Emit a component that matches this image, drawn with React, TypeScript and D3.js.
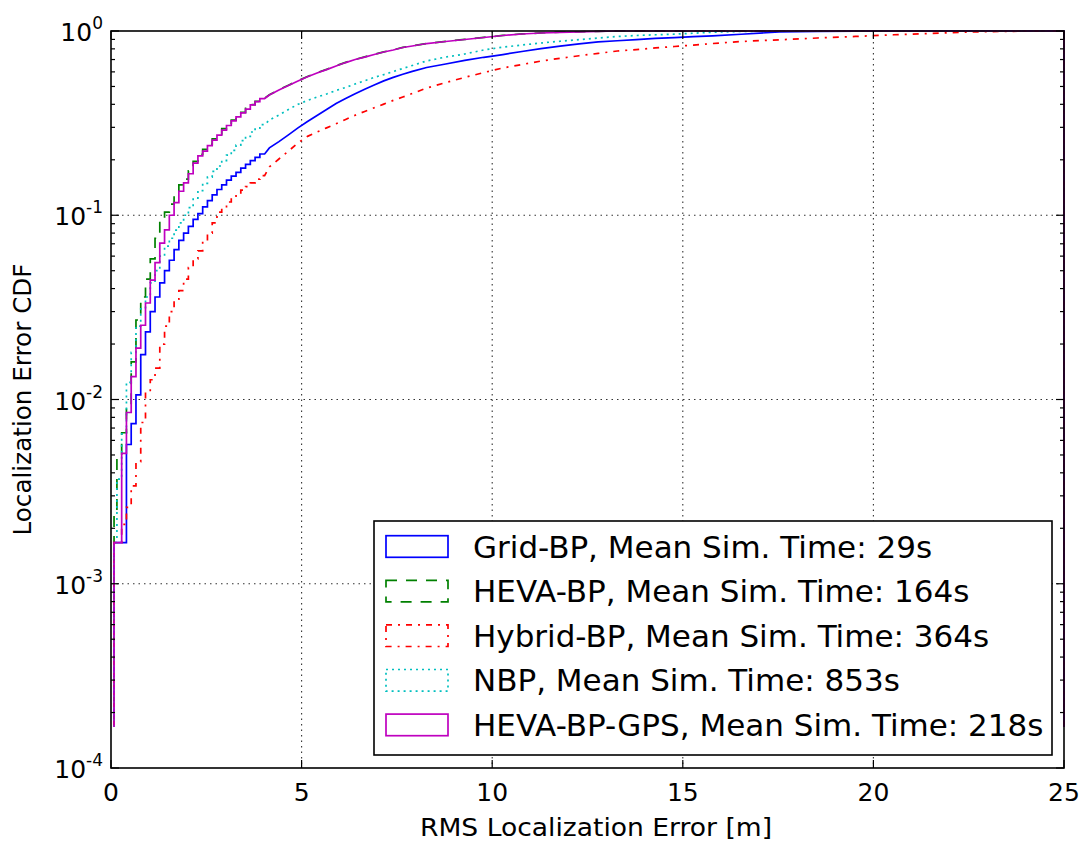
import React from "react";
import * as d3 from "d3";

// Histogram bin edges [m] (fine near zero, coarser further out)
const binEdges = [
  0.08, 0.155, 0.28, 0.405, 0.53, 0.655, 0.78, 0.905, 1.03, 1.155, 1.28, 1.405, 1.53, 1.655, 1.78, 1.905,
  2.03, 2.155, 2.28, 2.405, 2.53, 2.655, 2.78, 2.905, 3.03, 3.155, 3.28, 3.405, 3.53, 3.655, 3.78, 3.905, 4.03,
  4.28, 4.53, 4.78, 5.03, 5.28, 5.53, 5.78, 6.03, 6.28, 6.53, 6.78, 7.03, 7.28, 7.53, 7.78, 8.03,
  8.53, 9.03, 9.53, 10.03, 10.53, 11.03, 11.53, 12.03, 12.53, 13.03, 13.53, 14.03, 14.53, 15.03, 15.53, 16.03,
  17.03, 18.03, 19.03, 20.03, 21.03, 22.03, 23.03, 24.03, 25,
];
// number of fine (0.125 m) bins drawn as visible steps
const fineBinCount = 32;

// Cumulative fraction in each bin
const gridBP = [
  0.00167, 0.00167, 0.00167, 0.0057, 0.0074, 0.0106, 0.0175, 0.0233, 0.03, 0.036, 0.043, 0.05, 0.057, 0.065, 0.073, 0.08,
  0.087, 0.095, 0.102, 0.111, 0.12, 0.129, 0.138, 0.146, 0.155, 0.163, 0.171, 0.18, 0.189, 0.198, 0.206, 0.215,
  0.232, 0.251, 0.273, 0.298, 0.323, 0.348, 0.375, 0.404, 0.43, 0.456, 0.483, 0.509, 0.536, 0.56, 0.582, 0.604,
  0.634, 0.662, 0.692, 0.72, 0.745, 0.774, 0.802, 0.827, 0.852, 0.872, 0.885, 0.898, 0.911, 0.921, 0.931, 0.942,
  0.96, 0.988, 0.995, 0.999, 1, 1, 1, 1, 1,
];
const hevaBP = [
  0.0025, 0.0048, 0.0066, 0.009, 0.016, 0.027, 0.036, 0.045, 0.058, 0.075, 0.093, 0.104, 0.115, 0.13, 0.146, 0.157,
  0.174, 0.196, 0.214, 0.228, 0.243, 0.26, 0.276, 0.295, 0.31, 0.328, 0.345, 0.362, 0.38, 0.398, 0.415, 0.432,
  0.451, 0.48, 0.508, 0.537, 0.566, 0.594, 0.619, 0.648, 0.676, 0.701, 0.724, 0.747, 0.77, 0.79, 0.815, 0.83,
  0.856, 0.878, 0.9, 0.923, 0.946, 0.964, 0.976, 0.985, 0.99, 0.995, 1, 1, 1, 1, 1, 1,
  1, 1, 1, 1, 1, 1, 1, 1, 1,
];
const hybridBP = [
  0.00167, 0.00167, 0.0021, 0.0026, 0.0034, 0.0046, 0.0075, 0.011, 0.0128, 0.0148, 0.02, 0.025, 0.03, 0.035, 0.039, 0.045,
  0.052, 0.058, 0.064, 0.072, 0.08, 0.091, 0.104, 0.11, 0.118, 0.124, 0.13, 0.137, 0.143, 0.15, 0.157, 0.164,
  0.183, 0.202, 0.223, 0.247, 0.268, 0.283, 0.298, 0.314, 0.331, 0.349, 0.366, 0.383, 0.401, 0.42, 0.438, 0.458,
  0.49, 0.525, 0.56, 0.595, 0.63, 0.658, 0.687, 0.711, 0.734, 0.756, 0.779, 0.793, 0.809, 0.824, 0.839, 0.855,
  0.877, 0.896, 0.916, 0.934, 0.954, 0.971, 0.988, 0.996, 1,
];
const nbp = [
  0.00167, 0.0037, 0.0065, 0.0124, 0.018, 0.025, 0.031, 0.036, 0.043, 0.05, 0.06, 0.068, 0.075, 0.083, 0.091, 0.1,
  0.11, 0.124, 0.136, 0.149, 0.161, 0.173, 0.185, 0.198, 0.212, 0.225, 0.24, 0.254, 0.268, 0.283, 0.297, 0.31,
  0.329, 0.35, 0.375, 0.4, 0.42, 0.438, 0.455, 0.476, 0.494, 0.516, 0.537, 0.56, 0.58, 0.603, 0.626, 0.65,
  0.688, 0.722, 0.75, 0.789, 0.817, 0.839, 0.861, 0.88, 0.898, 0.916, 0.934, 0.945, 0.954, 0.961, 0.973, 0.985,
  0.995, 1, 1, 1, 1, 1, 1, 1, 1,
];
const hevaBPGPS = [
  0.00167, 0.00167, 0.0051, 0.0085, 0.0133, 0.019, 0.0253, 0.0334, 0.0445, 0.0553, 0.0705, 0.0833, 0.1, 0.117, 0.135, 0.15,
  0.168, 0.192, 0.21, 0.223, 0.239, 0.256, 0.272, 0.29, 0.307, 0.325, 0.342, 0.359, 0.377, 0.397, 0.414, 0.43,
  0.449, 0.478, 0.506, 0.535, 0.564, 0.592, 0.617, 0.646, 0.674, 0.7, 0.722, 0.746, 0.769, 0.789, 0.814, 0.829,
  0.855, 0.877, 0.899, 0.922, 0.945, 0.963, 0.975, 0.984, 0.99, 0.995, 1, 1, 1, 1, 1, 1,
  1, 1, 1, 1, 1, 1, 1, 1, 1,
];

const legendLabels = [
  "Grid-BP, Mean Sim. Time: 29s",
  "HEVA-BP, Mean Sim. Time: 164s",
  "Hybrid-BP, Mean Sim. Time: 364s",
  "NBP, Mean Sim. Time: 853s",
  "HEVA-BP-GPS, Mean Sim. Time: 218s",
];
const xTickValues = [0, 5, 10, 15, 20, 25];
const yTickExponents = [0, -1, -2, -3, -4];
const xLabel = "RMS Localization Error [m]";
const yLabel = "Localization Error CDF";
const histBottom = 1 / 6000;

const W = 1083;
const H = 842;
const PL = 111, PR = 1064, PT = 31, PB = 768;

const seriesStyles = [
  { values: gridBP, color: "#0000ff", dash: undefined as string | undefined },
  { values: hevaBP, color: "#008000", dash: "11,9" },
  { values: hybridBP, color: "#ff0000", dash: "6,6,2,6" },
  { values: nbp, color: "#00bfbf", dash: "2,4" },
  { values: hevaBPGPS, color: "#bf00bf", dash: undefined as string | undefined },
];

export default function App() {
  const x = d3.scaleLinear().domain([0, 25]).range([PL, PR]);
  const y = d3.scaleLog().domain([1e-4, 1]).range([PB, PT]);
  const line = d3
    .line<[number, number]>()
    .x((d) => x(d[0]))
    .y((d) => y(d[1]));

  const histPoints = (vals: number[]) => {
    const pts: [number, number][] = [[binEdges[0], histBottom]];
    vals.forEach((v, i) => {
      const vv = Math.max(v, histBottom);
      if (i < fineBinCount) {
        pts.push([binEdges[i], vv]);
        pts.push([binEdges[i + 1], vv]);
      } else {
        pts.push([(binEdges[i] + binEdges[i + 1]) / 2, vv]);
        if (i === vals.length - 1) pts.push([binEdges[i + 1], vv]);
      }
    });
    pts.push([binEdges[binEdges.length - 1], histBottom]);
    return pts;
  };

  const minorTicks: number[] = [];
  for (let k = -4; k < 0; k++) {
    for (let j = 2; j <= 9; j++) minorTicks.push(j * Math.pow(10, k));
  }

  const font = "'DejaVu Sans', sans-serif";
  const legX = 374, legY = 521, legW = 678, legH = 234;
  const rowH = 44.6;

  return (
    <svg
      width={W}
      height={H}
      style={{ position: "absolute", left: 0, top: 0, background: "#fff" }}
      fontFamily={font}
    >
      <rect x={0} y={0} width={W} height={H} fill="#fff" />
      <defs>
        <clipPath id="plotClip">
          <rect x={PL - 2} y={PT - 2} width={PR - PL + 4} height={PB - PT + 4} />
        </clipPath>
      </defs>

      {/* grid */}
      <g stroke="#333" strokeWidth={1.1} strokeDasharray="1.5,4" fill="none">
        {xTickValues.slice(1, -1).map((v) => (
          <line key={"gx" + v} x1={x(v)} x2={x(v)} y1={PT} y2={PB} />
        ))}
        {yTickExponents.slice(1, -1).map((e) => (
          <line key={"gy" + e} x1={PL} x2={PR} y1={y(Math.pow(10, e))} y2={y(Math.pow(10, e))} />
        ))}
      </g>

      {/* series */}
      <g clipPath="url(#plotClip)" fill="none">
        {seriesStyles.map((s, i) => (
          <path
            key={i}
            d={line(histPoints(s.values)) || ""}
            stroke={s.color}
            strokeWidth={1.7}
            strokeDasharray={s.dash}
            strokeLinejoin="miter"
          />
        ))}
      </g>

      {/* ticks */}
      <g stroke="#000" strokeWidth={1.2}>
        {xTickValues.map((v) => (
          <g key={"xt" + v}>
            <line x1={x(v)} x2={x(v)} y1={PB} y2={PB - 8} />
            <line x1={x(v)} x2={x(v)} y1={PT} y2={PT + 8} />
          </g>
        ))}
        {yTickExponents.map((e) => (
          <g key={"yt" + e}>
            <line x1={PL} x2={PL + 8} y1={y(Math.pow(10, e))} y2={y(Math.pow(10, e))} />
            <line x1={PR} x2={PR - 8} y1={y(Math.pow(10, e))} y2={y(Math.pow(10, e))} />
          </g>
        ))}
        {minorTicks.map((v, i) => (
          <g key={"mt" + i}>
            <line x1={PL} x2={PL + 4} y1={y(v)} y2={y(v)} />
            <line x1={PR} x2={PR - 4} y1={y(v)} y2={y(v)} />
          </g>
        ))}
      </g>

      {/* frame */}
      <rect x={PL} y={PT} width={PR - PL} height={PB - PT} fill="none" stroke="#000" strokeWidth={1.6} />

      {/* tick labels */}
      <g fontSize={25} fill="#000">
        {xTickValues.map((v) => (
          <text key={"xl" + v} x={x(v)} y={PB + 33} textAnchor="middle">
            {v}
          </text>
        ))}
        {yTickExponents.map((e) => (
          <text key={"yl" + e} x={103} y={y(Math.pow(10, e)) + 10} textAnchor="end">
            <tspan>10</tspan>
            <tspan dy={-12} fontSize={17}>
              {e === 0 ? "0" : "-" + Math.abs(e)}
            </tspan>
          </text>
        ))}
      </g>

      {/* axis labels */}
      <text x={596} y={836} textAnchor="middle" fontSize={24} textLength={352} lengthAdjust="spacingAndGlyphs">
        {xLabel}
      </text>
      <text
        transform={`translate(31, ${(PT + PB) / 2}) rotate(-90)`}
        textAnchor="middle"
        fontSize={24}
        textLength={272}
        lengthAdjust="spacingAndGlyphs"
      >
        {yLabel}
      </text>

      {/* legend */}
      <rect x={legX} y={legY} width={legW} height={legH} fill="#fff" stroke="#000" strokeWidth={1.6} />
      {seriesStyles.map((s, i) => {
        const cy = legY + 25.5 + i * rowH;
        return (
          <g key={"lg" + i}>
            <rect
              x={386}
              y={cy - 10.8}
              width={62}
              height={21.6}
              fill="none"
              stroke={s.color}
              strokeWidth={1.7}
              strokeDasharray={s.dash}
            />
            <text x={473} y={cy + 11} fontSize={31}>
              {legendLabels[i]}
            </text>
          </g>
        );
      })}
    </svg>
  );
}
